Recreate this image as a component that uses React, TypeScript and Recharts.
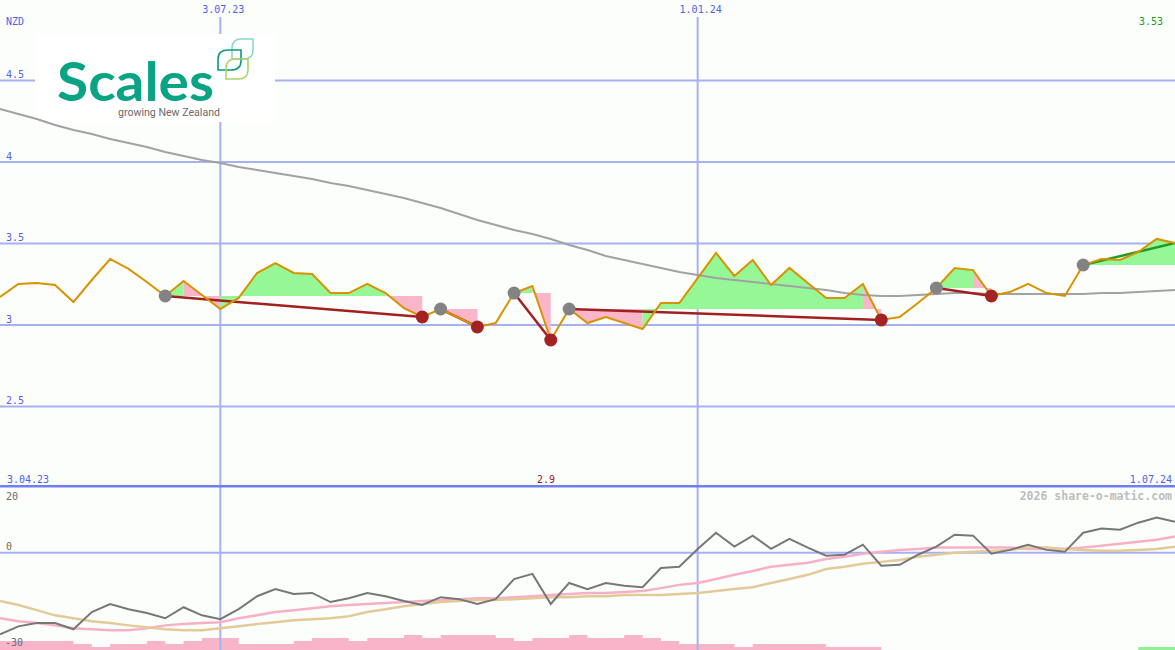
import { ComposedChart, Line, Area, XAxis, YAxis, ReferenceLine } from 'recharts';

// weekly closes, 10.04.23 .. 1.07.24 (NZD)
const price = [
  3.172, 3.252, 3.258, 3.245, 3.141, 3.276, 3.405, 3.344, 3.264, 3.178,
  3.270, 3.184, 3.098, 3.166, 3.319, 3.380, 3.319, 3.313, 3.196, 3.196,
  3.252, 3.196, 3.104, 3.049, 3.098, 3.043, 2.988, 3.012, 3.196, 3.239,
  2.908, 3.098, 3.012, 3.049, 3.012, 2.975, 3.135, 3.135, 3.288, 3.442,
  3.301, 3.399, 3.245, 3.350, 3.258, 3.166, 3.166, 3.252, 3.031, 3.049,
  3.135, 3.227, 3.350, 3.337, 3.178, 3.202, 3.252, 3.196, 3.178, 3.368,
  3.405, 3.399, 3.448, 3.528, 3.503,
];

// long moving average (grey)
const longAvg = [
  4.325, 4.294, 4.264, 4.227, 4.196, 4.172, 4.141, 4.117, 4.092, 4.061,
  4.037, 4.012, 3.994, 3.969, 3.951, 3.933, 3.914, 3.896, 3.871, 3.853,
  3.828, 3.804, 3.779, 3.748, 3.718, 3.681, 3.644, 3.613, 3.583, 3.558,
  3.528, 3.491, 3.460, 3.423, 3.399, 3.374, 3.350, 3.325, 3.307, 3.288,
  3.276, 3.264, 3.252, 3.239, 3.227, 3.215, 3.196, 3.184, 3.178, 3.178,
  3.184, 3.190, 3.196, 3.196, 3.190, 3.190, 3.190, 3.190, 3.190, 3.190,
  3.196, 3.196, 3.202, 3.209, 3.215,
];

// lower panel oscillator + its two averages
const osc = [
  -25.2, -22.7, -21.7, -21.7, -23.6, -18.3, -15.8, -17.4, -18.6, -20.2,
  -16.8, -19.3, -20.5, -17.4, -13.4, -11.2, -12.7, -12.4, -15.2, -14.0,
  -12.4, -13.4, -14.9, -16.1, -13.7, -14.3, -15.8, -14.3, -8.1, -6.5,
  -15.8, -9.3, -11.2, -9.3, -10.2, -10.6, -4.7, -4.3, 1.2, 6.2,
  1.9, 5.3, 1.2, 4.3, 1.6, -0.9, -0.6, 2.5, -4.0, -3.7,
  -0.6, 1.9, 5.6, 5.3, -0.3, 0.9, 2.5, 0.9, 0.3, 6.2,
  7.5, 7.1, 9.3, 10.9, 9.6,
];
const oscFast = [
  -20.2, -21.1, -21.7, -22.4, -23.3, -23.6, -23.9, -23.9, -23.3, -22.4,
  -22.0, -21.7, -21.4, -20.2, -19.3, -18.3, -17.7, -17.1, -16.5, -16.1,
  -15.8, -15.5, -15.2, -14.9, -14.6, -14.3, -14.0, -14.0, -13.7, -13.4,
  -13.0, -12.7, -12.4, -12.4, -12.1, -11.8, -10.9, -9.9, -9.3, -8.1,
  -6.8, -5.6, -4.3, -3.7, -3.1, -1.9, -1.2, -0.3, 0.3, 0.9,
  1.2, 1.6, 1.6, 1.6, 1.6, 1.6, 1.2, 1.2, 1.2, 1.6,
  2.2, 2.8, 3.4, 4.0, 5.0,
];
const oscSlow = [
  -14.9, -16.1, -17.7, -19.3, -20.2, -21.1, -21.7, -22.4, -23.0, -23.6,
  -23.9, -23.9, -23.3, -22.7, -22.0, -21.4, -20.8, -20.5, -20.2, -19.6,
  -18.3, -17.4, -16.5, -15.8, -15.2, -14.9, -14.6, -14.6, -14.3, -14.0,
  -13.7, -13.7, -13.4, -13.4, -13.0, -13.0, -13.0, -12.7, -12.4, -11.8,
  -11.2, -10.6, -9.3, -8.1, -6.8, -5.0, -4.3, -3.4, -2.8, -2.2,
  -1.2, -0.6, 0, 0.3, 0.6, 0.9, 1.6, 1.6, 1.2, 0.9,
  0.6, 0.6, 0.9, 1.2, 1.9,
];

// weekly strength bars at the bottom
const barsDown = [
  3, 3, 3, 3, 2, 1, 2, 2, 3, 2,
  3, 4, 4, 2, 2, 2, 3, 4, 4, 3,
  4, 4, 5, 4, 5, 5, 5, 4, 3, 4,
  4, 5, 4, 4, 5, 4, 3, 2, 2, 2,
  1, 2, 2, 2, 2, 1, 1, 1, 0, 0,
  0, 0, 0, 0, 0, 0, 0, 0, 0, 0,
  0, 0, 0, 0, 0,
];
const barsUp = [
  0, 0, 0, 0, 0, 0, 0, 0, 0, 0,
  0, 0, 0, 0, 0, 0, 0, 0, 0, 0,
  0, 0, 0, 0, 0, 0, 0, 0, 0, 0,
  0, 0, 0, 0, 0, 0, 0, 0, 0, 0,
  0, 0, 0, 0, 0, 0, 0, 0, 0, 0,
  0, 0, 0, 0, 0, 0, 0, 0, 0, 0,
  0, 0, 1, 1, 1,
];

const swingHighs = [9, 24, 28, 31, 51, 59];
const swingLows = [23, 26, 30, 48, 54];
const downTrends = [[9, 23], [24, 26], [28, 30], [31, 48], [51, 54]];
const upTrends = [[59, 64]];

// shaded zones between price and the level of the swing point `base`
const zones = [
  { from: 9, to: 10, base: 9, up: true },
  { from: 10, to: 12, base: 9, up: false },
  { from: 12, to: 21, base: 9, up: true },
  { from: 21, to: 23, base: 9, up: false },
  { from: 24, to: 26, base: 24, up: false },
  { from: 28, to: 29, base: 28, up: true },
  { from: 29, to: 30, base: 28, up: false },
  { from: 31, to: 35, base: 31, up: false },
  { from: 35, to: 47, base: 31, up: true },
  { from: 47, to: 48, base: 31, up: false },
  { from: 51, to: 53, base: 51, up: true },
  { from: 53, to: 54, base: 51, up: false },
  { from: 59, to: 64, base: 59, up: true },
];

const dateLines = [{ i: 12, label: '3.07.23' }, { i: 38, label: '1.01.24' }];
const priceTicks = [4.5, 4, 3.5, 3, 2.5];

const W = 1175;
const MAIN_H = 489;
const LOW_H = 162;
const GRID = '#a6b0f2';
const BLUE = '#4f5ff0';
const GREEN_FILL = '#96f796';
const PINK_FILL = '#f9b6c9';
const MONO = '"DejaVu Sans Mono", "Liberation Mono", monospace';

const rows = price.map((p, i) => {
  const row: Record<string, any> = {
    i, price: p, avg: longAvg[i], osc: osc[i], oscFast: oscFast[i], oscSlow: oscSlow[i],
    barsDown: barsDown[i], barsUp: barsUp[i],
    high: swingHighs.includes(i) ? p : null,
    low: swingLows.includes(i) ? p : null,
  };
  downTrends.forEach(([a, b], k) => { row['dn' + k] = i === a || i === b ? p : null; });
  upTrends.forEach(([a, b], k) => { row['up' + k] = i === a || i === b ? p : null; });
  zones.forEach((z, k) => { row['z' + k] = i >= z.from && i <= z.to ? [price[z.base], p] : null; });
  return row;
});

// price -> pixel row of the main panel, for the tick labels
const yOf = (p: number) => -1 + (5 - p) * (MAIN_H / 3);

function leaf(x: number, y: number, w: number, h: number) {
  return `M${x},${y + h} L${x},${y + h * 0.45} Q${x},${y} ${x + w * 0.45},${y} L${x + w},${y} L${x + w},${y + h * 0.55} Q${x + w},${y + h} ${x + w * 0.55},${y + h} Z`;
}

const lineProps = { dot: false as const, activeDot: false as const, isAnimationActive: false };

export default function App() {
  const abs = { position: 'absolute' as const, left: 0 };
  return (
    <div style={{ position: 'fixed', left: 0, top: 0, width: W, height: 650, background: '#fcfefc', overflow: 'hidden' }}>
      {/* grid layer */}
      <ComposedChart width={W} height={MAIN_H} data={rows} margin={{ top: 0, right: 0, bottom: 0, left: 0 }} style={{ ...abs, top: -1 }}>
        <XAxis dataKey="i" type="number" domain={[0, 64]} hide allowDataOverflow />
        <YAxis domain={[2, 5]} hide allowDataOverflow />
        {priceTicks.map(t => (
          <ReferenceLine key={t} y={t} stroke={GRID} strokeWidth={2} />
        ))}
        {dateLines.map(d => (
          <ReferenceLine key={d.i} segment={[{ x: d.i, y: 4.89 }, { x: d.i, y: 2 }]} stroke={GRID} strokeWidth={2} />
        ))}
        <ReferenceLine y={2.01} stroke="#6f7fee" strokeWidth={2.5} />
        <Line dataKey="price" stroke="none" {...lineProps} />
      </ComposedChart>

      {/* logo */}
      <svg width={W} height={MAIN_H} style={{ ...abs, top: 0 }}>
        <rect x={35} y={34} width={240} height={88} fill="#ffffff" />
        <text x={57} y={101} fontFamily="Lato, 'Open Sans', sans-serif" fontWeight={700} fontSize={53}
          fill="#0aa384" textLength={157} lengthAdjust="spacingAndGlyphs">Scales</text>
        <text x={118} y={116} fontFamily="Roboto, 'Noto Sans', sans-serif" fontSize={11.5}
          fill="#6a6a6a" textLength={102} lengthAdjust="spacingAndGlyphs">growing New Zealand</text>
        <path d={leaf(232, 39, 21, 20)} fill="none" stroke="#8fd6cc" strokeWidth={1.6} />
        <path d={leaf(218, 50, 23, 20)} fill="none" stroke="#0b9a82" strokeWidth={1.6} />
        <path d={leaf(226, 59, 22, 20)} fill="none" stroke="#a8d468" strokeWidth={1.6} />
      </svg>

      {/* data layer */}
      <ComposedChart width={W} height={MAIN_H} data={rows} margin={{ top: 0, right: 0, bottom: 0, left: 0 }} style={{ ...abs, top: -1 }}>
        <XAxis dataKey="i" type="number" domain={[0, 64]} hide allowDataOverflow />
        <YAxis domain={[2, 5]} hide allowDataOverflow />
        {zones.map((z, k) => (
          <Area key={'z' + k} dataKey={'z' + k} fill={z.up ? GREEN_FILL : PINK_FILL} fillOpacity={1}
            stroke="none" {...lineProps} />
        ))}
        <Line dataKey="avg" stroke="#a2a2a2" strokeWidth={2} {...lineProps} />
        <Line dataKey="high" stroke="none" dot={{ r: 6.5, fill: '#838383', stroke: 'none' }} activeDot={false} isAnimationActive={false} />
        <Line dataKey="low" stroke="none" dot={{ r: 6.5, fill: '#a52222', stroke: 'none' }} activeDot={false} isAnimationActive={false} />
        {downTrends.map((_, k) => (
          <Line key={'dn' + k} dataKey={'dn' + k} connectNulls stroke="#a32020" strokeWidth={2.5} {...lineProps} />
        ))}
        {upTrends.map((_, k) => (
          <Line key={'up' + k} dataKey={'up' + k} connectNulls stroke="#239a26" strokeWidth={2.5} {...lineProps} />
        ))}
        <Line dataKey="price" stroke="#d99200" strokeWidth={2} {...lineProps} />
      </ComposedChart>

      {/* lower panel */}
      <ComposedChart width={W} height={LOW_H} data={rows} margin={{ top: 0, right: 0, bottom: 0, left: 0 }} style={{ ...abs, top: 488 }}>
        <XAxis dataKey="i" type="number" domain={[0, 64]} hide allowDataOverflow />
        <YAxis yAxisId="osc" domain={[-30, 20]} hide allowDataOverflow />
        <YAxis yAxisId="bars" domain={[0, 54]} hide allowDataOverflow />
        <ReferenceLine yAxisId="osc" y={0} stroke={GRID} strokeWidth={2} />
        {dateLines.map(d => (
          <ReferenceLine key={d.i} yAxisId="osc" x={d.i} stroke={GRID} strokeWidth={2} />
        ))}
        <Area yAxisId="bars" type="stepAfter" dataKey="barsDown" fill="#f8b4c8" fillOpacity={1} stroke="none" {...lineProps} />
        <Area yAxisId="bars" type="stepAfter" dataKey="barsUp" fill="#92f092" fillOpacity={1} stroke="none" {...lineProps} />
        <Line yAxisId="osc" dataKey="oscFast" stroke="#f8b0c6" strokeWidth={2.5} {...lineProps} />
        <Line yAxisId="osc" dataKey="oscSlow" stroke="#e3ca99" strokeWidth={2.5} {...lineProps} />
        <Line yAxisId="osc" dataKey="osc" stroke="#777777" strokeWidth={2} {...lineProps} />
      </ComposedChart>

      {/* labels */}
      <svg width={W} height={650} style={{ ...abs, top: 0, pointerEvents: 'none' }} fontFamily={MONO} fontSize={10}>
        <text x={6} y={25} fill={BLUE}>NZD</text>
        {dateLines.map(d => (
          <text key={d.i} x={d.i * (W / 64) + 3} y={12.5} fill={BLUE} textAnchor="middle">{d.label}</text>
        ))}
        <text x={1163} y={25} fill="#1f9a1f" textAnchor="end">3.53</text>
        {priceTicks.map(t => (
          <text key={t} x={6} y={yOf(t) - 2.5} fill={BLUE}>{String(t)}</text>
        ))}
        <text x={7} y={483} fill={BLUE}>3.04.23</text>
        <text x={537} y={483} fill="#a01818">2.9</text>
        <text x={1172} y={483} fill={BLUE} textAnchor="end">1.07.24</text>
        <text x={1172} y={500} fill="#bdbdbd" fontWeight={700} fontSize={11.5} textAnchor="end">2026 share-o-matic.com</text>
        <text x={6} y={500} fill="#6a6a6a">20</text>
        <text x={6} y={550} fill="#6a6a6a">0</text>
        <text x={5} y={646} fill="#6a6a6a">-30</text>
      </svg>
    </div>
  );
}
